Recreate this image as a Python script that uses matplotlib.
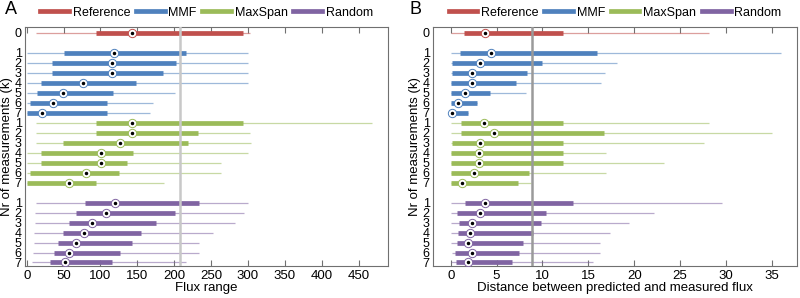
import matplotlib
matplotlib.use('Agg')
import matplotlib.pyplot as plt
from matplotlib.lines import Line2D
import numpy as np

plt.rcParams['font.family'] = ['Liberation Sans', 'DejaVu Sans']

groups = ['Reference', 'MMF', 'MaxSpan', 'Random']
colors = {'Reference': '#c0504d', 'MMF': '#4f81bd', 'MaxSpan': '#9bbb59', 'Random': '#8064a2'}
row_labels = ['0'] + ['1', '2', '3', '4', '5', '6', '7'] * 3
row_groups = ['Reference'] + ['MMF'] * 7 + ['MaxSpan'] * 7 + ['Random'] * 7
row_pos = [0] + list(range(2, 9)) + list(range(9, 16)) + list(range(17, 24))

# panel A: flux range  (whisker lo, box lo, median, box hi, whisker hi)
flux_wlo = [12.7, 0, 0, 0, 0, 0, 0, 0, 12.7, 12.7, 12.7, 0, 0, 0, 0,
            12.7, 11.3, 11.3, 10.4, 9.5, 8.6, 7.2]
flux_qlo = [94, 50.7, 34.8, 34.8, 19, 14.5, 4.5, 1, 94, 94, 48.8, 19, 19, 4.5, 1,
            79, 67, 57.4, 48.8, 43, 37, 31.7]
flux_med = [143.4, 118.5, 115.8, 115.8, 76, 49.3, 35.3, 20.8, 143.4, 143.4, 126.6, 100.4, 100.4, 80, 57.4,
            119.4, 107.6, 88.6, 77.8, 67.4, 57.4, 52]
flux_qhi = [293, 216, 202, 185.4, 148.3, 116.7, 108.5, 108.5, 293, 231.6, 218.5, 143.8, 135.7, 125.7, 94,
            234, 201, 174.6, 155, 142.5, 126.6, 115.8]
flux_whi = [303, 300, 300, 300, 300, 200.8, 171, 167.3, 468, 303, 304, 300, 263, 263, 186,
            300, 294.4, 282, 252.4, 234, 234, 216]
flux_ref = 208

# panel B: distance between predicted and measured flux
dist_wlo = [0, 0, 0.07, 0.07, 0.07, 0.07, 0.07, 0.1, 0, 0, 0, 0, 0, 0, 0,
            0, 0.07, 0.07, 0.07, 0.07, 0.15, 0.07]
dist_qlo = [1.45, 1.05, 0.15, 0.15, 0.07, 0.07, 0.07, 0.15, 1.1, 1.1, 0.15, 0.07, 0.07, 0.07, 0.07,
            1.53, 0.69, 0.91, 0.8, 0.69, 0.44, 0.55]
dist_med = [3.78, 4.44, 3.24, 2.36, 2.36, 1.6, 0.8, 0.18, 3.64, 4.73, 3.24, 3.1, 3.1, 2.55, 1.27,
            3.75, 3.16, 2.33, 2.1, 1.9, 2.3, 1.9]
dist_qhi = [12.26, 15.9, 10.0, 8.26, 7.1, 4.26, 2.9, 1.9, 12.26, 16.7, 12.26, 12.2, 12.2, 8.5, 7.3,
            13.35, 10.37, 9.82, 9.0, 7.9, 7.4, 6.7]
dist_whi = [28.2, 36.0, 18.15, 16.8, 16.37, 8.18, 2.9, 1.9, 28.1, 35.0, 27.6, 16.9, 23.2, 16.9, 8.7,
            29.6, 22.2, 19.4, 17.4, 16.3, 16.3, 15.5]
dist_ref = 8.88


def draw_panel(ax, wlo, qlo, med, qhi, whi, ref, ref_color):
    for i, y in enumerate(row_pos):
        c = colors[row_groups[i]]
        ax.plot([wlo[i], whi[i]], [y, y], color=c, lw=0.9, alpha=0.55, solid_capstyle='butt', zorder=2)
        ax.plot([qlo[i], qhi[i]], [y, y], color=c, lw=3.4, solid_capstyle='butt', zorder=3)
        ax.plot(med[i], y, 'o', ms=6, mfc='white', mec=c, mew=0.7, zorder=5)
        ax.plot(med[i], y, 'o', ms=1.5, color='black', zorder=6)
    ax.axvline(ref, color=ref_color, lw=1.8, zorder=4)
    ax.set_ylim(23.35, -0.55)
    ax.set_yticks(row_pos)
    ax.set_yticklabels(row_labels, fontsize=9)
    ax.tick_params(axis='y', length=0, pad=2.5)
    ax.tick_params(axis='x', direction='in', top=True, labelsize=9.5, length=4, pad=3,
                   color='#707070')
    for s in ax.spines.values():
        s.set_color('#707070')
        s.set_linewidth(0.8)
    handles = [Line2D([], [], color=colors[g], lw=3.4) for g in groups]
    ax.legend(handles, groups, loc='lower center', bbox_to_anchor=(0.5, 1.0), ncol=4,
              frameon=False, fontsize=9, handlelength=2.3, handletextpad=0.3,
              columnspacing=0.45, borderaxespad=0.3)


fig = plt.figure(figsize=(8, 2.98), dpi=100)
axA = fig.add_axes([0.0316, 0.1074, 0.4535, 0.801])
axB = fig.add_axes([0.5416, 0.1074, 0.4542, 0.801])

draw_panel(axA, flux_wlo, flux_qlo, flux_med, flux_qhi, flux_whi, flux_ref, '#c8c8c8')
axA.set_xlim(-2, 490)
axA.set_xticks(np.arange(0, 451, 50))
axA.set_xlabel('Flux range', fontsize=9.5, labelpad=0)
axA.set_ylabel('Nr of measurements (k)', fontsize=9.5, labelpad=1)

draw_panel(axB, dist_wlo, dist_qlo, dist_med, dist_qhi, dist_whi, dist_ref, '#9a9a9a')
axB.set_xlim(-1.9, 37.7)
axB.set_xticks(np.arange(0, 36, 5))
axB.set_xlabel('Distance between predicted and measured flux', fontsize=9.5, labelpad=0)
axB.set_ylabel('Nr of measurements (k)', fontsize=9.5, labelpad=1)

fig.text(0.006, 0.995, 'A', fontsize=13, va='top', ha='left')
fig.text(0.512, 0.995, 'B', fontsize=13, va='top', ha='left')

fig.savefig('out.png', dpi=100)
